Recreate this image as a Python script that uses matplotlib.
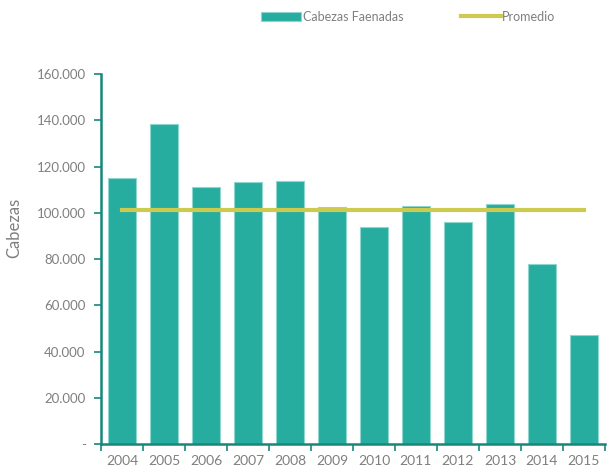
import matplotlib
matplotlib.use("Agg")
import matplotlib.pyplot as plt
import numpy as np
from matplotlib.ticker import FuncFormatter, FixedLocator

years = ["2004", "2005", "2006", "2007", "2008", "2009", "2010", "2011", "2012", "2013", "2014", "2015"]
cabezas = [115000, 138400, 111100, 113300, 113700, 102500, 93800, 102900, 96000, 103800, 77800, 47100]
promedio = [101300] * len(years)

plt.rcParams['font.family'] = ['Lato', 'DejaVu Sans']
gray = '#7F7F7F'
bar_color = '#26ADA0'
spine_color = '#17877C'
line_color = '#CDCB4F'

fig = plt.figure(figsize=(6.08, 4.72), dpi=100)
ax = fig.add_axes([0.166, 0.0593, 0.829, 0.7839])

x = np.arange(len(years))
bars = ax.bar(x, cabezas, width=0.67, color=bar_color, edgecolor='#8FD6CF', linewidth=0.8,
              label='Cabezas Faenadas', zorder=2)
line, = ax.plot(x, promedio, color=line_color, linewidth=3, label='Promedio', zorder=3,
                solid_capstyle='projecting')

ax.set_xlim(-0.5, len(years) - 0.5)
ax.set_ylim(0, 160000)
ax.set_yticks(np.arange(0, 160001, 20000))

def fmt(v, pos):
    if v == 0:
        return '-'
    return f"{int(v):,}".replace(',', '.')
ax.yaxis.set_major_formatter(FuncFormatter(fmt))

ax.set_xticks(x)
ax.set_xticklabels(years)
ax.xaxis.set_minor_locator(FixedLocator(np.arange(-0.5, len(years), 1.0)))
ax.tick_params(axis='x', which='major', length=0, labelsize=10, labelcolor=gray, pad=8)
ax.tick_params(axis='x', which='minor', length=5, width=1.2, color=spine_color, direction='out')
ax.tick_params(axis='y', which='major', length=5, width=1.2, color=spine_color, direction='out',
               labelsize=9.5, labelcolor=gray, pad=6)

for s in ['top', 'right']:
    ax.spines[s].set_visible(False)
for s in ['left', 'bottom']:
    ax.spines[s].set_color(spine_color)
    ax.spines[s].set_linewidth(1.8)

ax.set_ylabel('Cabezas', color=gray, fontsize=12)
ax.yaxis.set_label_coords(-0.157, 0.584)

fig.legend(handles=[bars, line], labels=['Cabezas Faenadas', 'Promedio'],
           loc='center', bbox_to_anchor=(0.6715, 0.965), ncol=2, frameon=False,
           fontsize=9, labelcolor=gray, handlelength=3.2, handletextpad=0.1,
           columnspacing=4.6)

fig.savefig('out.png', dpi=100)
